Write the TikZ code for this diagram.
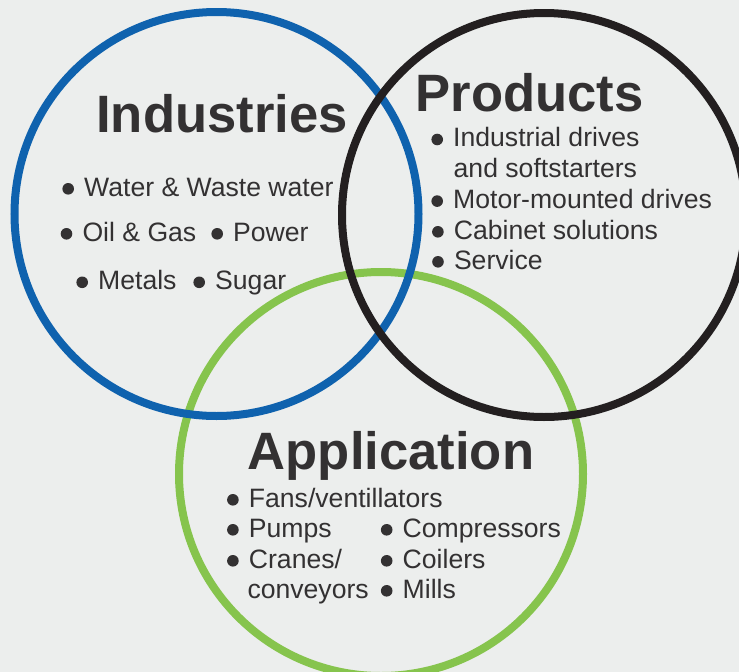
\documentclass[tikz,border=0pt]{standalone}
\usepackage{fontspec}
\setmainfont{Liberation Sans}
\definecolor{bgcol}{HTML}{ECEEED}
\definecolor{bluecol}{HTML}{0F62AE}
\definecolor{blackcol}{HTML}{231F20}
\definecolor{greencol}{HTML}{86C44D}
\definecolor{textcol}{HTML}{333132}
\tikzset{
  ring/.style={line width=8pt},
  heading/.style={inner sep=0pt, anchor=base, text=textcol, font=\fontsize{52.6}{52.6}\selectfont\bfseries},
  item/.style={inner sep=0pt, anchor=base west, text=textcol, font=\fontsize{26.6}{26.6}\selectfont},
  bulletdot/.style={fill=textcol}
}
\newcommand{\bitem}[4]{%
  \node[item] (#1) at (#2,#3) {#4};
  \fill[bulletdot] ([shift={(-15.8,-7.2)}]#1.base west) circle (5.8pt);
}
\begin{document}
\begin{tikzpicture}[x=1pt,y=-1pt]
\fill[bgcol] (0,0) rectangle (739,672);
\useasboundingbox (0,0) rectangle (739,672);
% circles
\draw[ring, greencol] (381,474) circle (202);
\draw[ring, bluecol] (216.5,214) circle (202);
\draw[ring, blackcol] (544,215) circle (202);
% headings
\node[heading] (hind) at (222,132) {Industries};
\node[heading] (hprod) at (529.5,111.5) {Products};
\node[heading] (happ) at (391,469) {Application};
% industries
\bitem{i1}{84}{196}{Water \& Waste water}
\bitem{i2}{82.3}{241}{Oil \& Gas}
\bitem{i3}{233}{241}{Power}
\bitem{i4}{98}{289.5}{Metals}
\bitem{i5}{215}{289.5}{Sugar}
% products
\bitem{p1}{453}{146.7}{Industrial drives}
\node[item] (p1b) at (453.5,177.3) {and softstarters};
\bitem{p2}{453}{208.3}{Motor-mounted drives}
\bitem{p3}{453.7}{239}{Cabinet solutions}
\bitem{p4}{453.8}{269}{Service}
% applications
\bitem{a1}{248.7}{507}{Fans/ventillators}
\bitem{a2}{248.7}{537}{Pumps}
\bitem{a3}{402.5}{537}{Compressors}
\bitem{a4}{248.7}{568}{Cranes/}
\bitem{a5}{402.5}{568}{Coilers}
\node[item] (a6) at (247.3,598) {conveyors};
\bitem{a7}{402.5}{598}{Mills}
\end{tikzpicture}
\end{document}
